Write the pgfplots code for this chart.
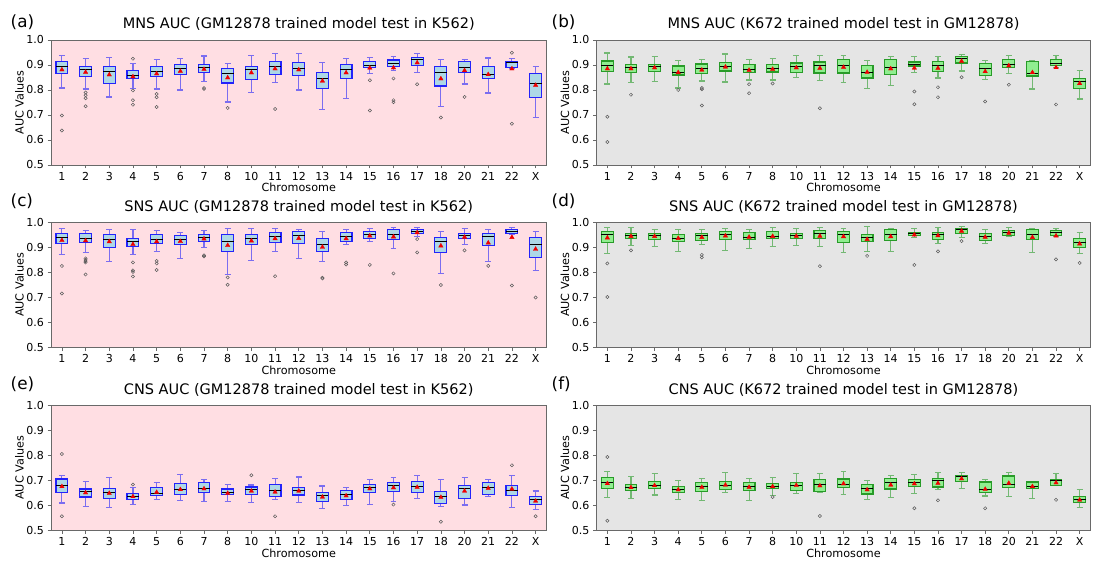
\documentclass[border=0pt]{standalone}
\usepackage{fontspec}
\setmainfont{DejaVu Sans}
\usepackage{pgfplots}
\pgfplotsset{compat=1.18}
\usepgfplotslibrary{statistics}

\definecolor{pinkbg}{RGB}{255,222,227}
\definecolor{graybg}{RGB}{229,229,229}
\definecolor{lblue}{RGB}{173,216,230}
\definecolor{bblue}{RGB}{35,35,250}
\definecolor{lgreen}{RGB}{144,238,144}
\definecolor{bgreen}{RGB}{40,155,40}
\definecolor{spine}{RGB}{105,105,105}
\definecolor{outc}{RGB}{90,90,90}
\definecolor{meanred}{RGB}{240,0,0}

\pgfplotsset{
  panel/.style={
    scale only axis, height=125pt,
    anchor=south west,
    xmin=0.54, xmax=21.46, ymin=0.5, ymax=1.0,
    xtick={1,...,21},
    xticklabels={1,2,3,4,5,6,7,8,10,11,12,13,14,15,16,17,18,20,21,22,X},
    ytick={0.5,0.6,0.7,0.8,0.9,1.0},
    yticklabels={0.5,0.6,0.7,0.8,0.9,1.0},
    tick align=outside, major tick length=3.5pt,
    xtick pos=left, ytick pos=left,
    tick style={spine, line width=0.7pt},
    axis line style={spine, line width=0.9pt},
    ticklabel style={font=\fontsize{11}{12}\selectfont},
    xlabel={Chromosome}, ylabel={AUC Values},
    every axis x label/.style={at={(axis description cs:0.5,0)}, anchor=base, yshift=-27pt, font=\fontsize{11.2}{12}\selectfont},
    every axis y label/.style={at={(axis description cs:-0.0638,0.5)}, anchor=center, rotate=90, font=\fontsize{11.2}{12}\selectfont},
    title style={at={(axis description cs:0.5,1)}, anchor=base, yshift=5pt, font=\fontsize{14.5}{16}\selectfont},
    boxplot/draw direction=y,
    boxplot/box extend=0.5,
    boxplot/whisker extend=0.25,
    boxplot/every median/.style={black, line width=0.9pt},
  },
  leftp/.style={panel, width=495.5pt, axis background/.style={fill=pinkbg},
    boxplot/every box/.style={fill=lblue, draw=bblue, line width=1.1pt},
    boxplot/every whisker/.style={draw=bblue, draw opacity=0.6, line width=1.1pt}},
  rightp/.style={panel, width=494pt, axis background/.style={fill=graybg},
    boxplot/every box/.style={fill=lgreen, draw=bgreen, line width=1.1pt},
    boxplot/every whisker/.style={draw=bgreen, draw opacity=0.6, line width=1.1pt}},
  bxs/.style={mark=o, mark size=1.6pt, mark options={draw=outc, line width=0.5pt, solid}},
  mns/.style={only marks, mark=triangle*, mark size=2.6pt, color=meanred, mark options={solid, draw=meanred, fill=meanred, line width=0.3pt}},
}
% position, lower whisker, Q1, median, Q3, upper whisker, mean (red triangle)
\newcommand{\bx}[7]{\addplot[bxs, boxplot prepared={draw direction=y, draw position=#1, lower whisker=#2, lower quartile=#3, median=#4, upper quartile=#5, upper whisker=#6}] coordinates {};
\addplot[mns] coordinates {(#1,#7)};}
\newcommand{\bxo}[8]{\addplot[bxs, boxplot prepared={draw direction=y, draw position=#1, lower whisker=#2, lower quartile=#3, median=#4, upper quartile=#5, upper whisker=#6}] table[row sep=\\, y index=0] {v\\ #8};
\addplot[mns] coordinates {(#1,#7)};}

\begin{document}
\begin{tikzpicture}
\path[use as bounding box] (0pt,0pt) rectangle (1095pt,561pt);

% (a)
\begin{axis}[leftp, at={(51pt,396pt)}, title={MNS AUC (GM12878 trained model test in K562)}]
\bxo{1}{0.808}{0.866}{0.895}{0.914}{0.938}{0.881}{0.698\\0.638\\}
\bxo{2}{0.804}{0.855}{0.882}{0.895}{0.926}{0.871}{0.790\\0.779\\0.767\\0.735\\}
\bx{3}{0.772}{0.827}{0.873}{0.893}{0.929}{0.861}
\bxo{4}{0.807}{0.845}{0.857}{0.877}{0.906}{0.853}{0.925\\0.798\\0.759\\0.741\\}
\bxo{5}{0.804}{0.854}{0.873}{0.894}{0.922}{0.865}{0.784\\0.771\\0.732\\}
\bx{6}{0.800}{0.862}{0.885}{0.903}{0.926}{0.875}
\bxo{7}{0.834}{0.871}{0.891}{0.903}{0.936}{0.883}{0.808\\0.804\\}
\bxo{8}{0.752}{0.828}{0.866}{0.887}{0.905}{0.849}{0.728\\}
\bx{9}{0.790}{0.842}{0.881}{0.895}{0.937}{0.869}
\bxo{10}{0.831}{0.861}{0.893}{0.913}{0.945}{0.885}{0.724\\}
\bx{11}{0.800}{0.858}{0.885}{0.909}{0.945}{0.881}
\bx{12}{0.723}{0.807}{0.845}{0.871}{0.909}{0.836}
\bx{13}{0.767}{0.845}{0.882}{0.901}{0.925}{0.869}
\bxo{14}{0.865}{0.889}{0.897}{0.913}{0.930}{0.888}{0.839\\0.718\\}
\bxo{15}{0.877}{0.894}{0.905}{0.920}{0.934}{0.889}{0.846\\0.759\\0.751\\}
\bxo{16}{0.869}{0.897}{0.921}{0.929}{0.945}{0.909}{0.823\\}
\bxo{17}{0.735}{0.816}{0.871}{0.893}{0.921}{0.845}{0.690\\}
\bxo{18}{0.824}{0.869}{0.890}{0.913}{0.922}{0.878}{0.772\\}
\bx{19}{0.788}{0.846}{0.863}{0.895}{0.928}{0.862}
\bxo{20}{0.888}{0.891}{0.910}{0.914}{0.926}{0.885}{0.949\\0.665\\}
\bx{21}{0.689}{0.771}{0.828}{0.866}{0.895}{0.819}
\end{axis}

% (b)
\begin{axis}[rightp, at={(596.5pt,396pt)}, title={MNS AUC (K672 trained model test in GM12878)}]
\bxo{1}{0.824}{0.873}{0.897}{0.916}{0.948}{0.885}{0.693\\0.592\\}
\bxo{2}{0.831}{0.871}{0.889}{0.903}{0.932}{0.885}{0.781\\}
\bx{3}{0.833}{0.874}{0.893}{0.903}{0.934}{0.889}
\bxo{4}{0.808}{0.860}{0.872}{0.896}{0.918}{0.870}{0.800\\}
\bxo{5}{0.836}{0.865}{0.887}{0.904}{0.923}{0.880}{0.808\\0.803\\0.738\\}
\bx{6}{0.832}{0.876}{0.895}{0.911}{0.944}{0.892}
\bxo{7}{0.840}{0.871}{0.884}{0.902}{0.921}{0.879}{0.823\\0.787\\}
\bxo{8}{0.840}{0.872}{0.887}{0.901}{0.925}{0.883}{0.826\\}
\bx{9}{0.850}{0.871}{0.895}{0.908}{0.938}{0.889}
\bxo{10}{0.837}{0.868}{0.899}{0.912}{0.939}{0.887}{0.727\\}
\bx{11}{0.829}{0.868}{0.899}{0.923}{0.939}{0.891}
\bx{12}{0.806}{0.848}{0.872}{0.899}{0.917}{0.871}
\bx{13}{0.818}{0.861}{0.891}{0.922}{0.933}{0.885}
\bxo{14}{0.871}{0.896}{0.902}{0.912}{0.935}{0.888}{0.794\\0.743\\}
\bxo{15}{0.848}{0.873}{0.897}{0.913}{0.935}{0.887}{0.811\\0.771\\}
\bxo{16}{0.876}{0.908}{0.925}{0.935}{0.943}{0.915}{0.851\\}
\bxo{17}{0.841}{0.857}{0.885}{0.906}{0.918}{0.874}{0.754\\}
\bxo{18}{0.865}{0.890}{0.903}{0.923}{0.939}{0.897}{0.821\\}
\bx{19}{0.804}{0.856}{0.866}{0.913}{0.916}{0.870}
\bxo{20}{0.891}{0.897}{0.907}{0.922}{0.939}{0.890}{0.742\\}
\bx{21}{0.764}{0.806}{0.834}{0.846}{0.877}{0.826}
\end{axis}

% (c)
\begin{axis}[leftp, at={(51pt,213.3pt)}, height=125.4pt, title={SNS AUC (GM12878 trained model test in K562)}]
\bxo{1}{0.872}{0.915}{0.940}{0.955}{0.976}{0.928}{0.826\\0.716\\}
\bxo{2}{0.880}{0.920}{0.936}{0.954}{0.968}{0.927}{0.856\\0.850\\0.845\\0.840\\0.792\\}
\bx{3}{0.842}{0.898}{0.932}{0.953}{0.972}{0.923}
\bxo{4}{0.872}{0.905}{0.925}{0.936}{0.972}{0.912}{0.840\\0.808\\0.802\\0.784\\}
\bxo{5}{0.885}{0.915}{0.932}{0.951}{0.968}{0.923}{0.846\\0.836\\0.810\\}
\bx{6}{0.856}{0.910}{0.933}{0.948}{0.960}{0.924}
\bxo{7}{0.898}{0.925}{0.941}{0.953}{0.968}{0.934}{0.868\\0.864\\}
\bxo{8}{0.792}{0.882}{0.925}{0.950}{0.975}{0.908}{0.780\\0.751\\}
\bx{9}{0.848}{0.910}{0.937}{0.953}{0.976}{0.926}
\bxo{10}{0.885}{0.918}{0.944}{0.960}{0.976}{0.935}{0.785\\}
\bx{11}{0.857}{0.914}{0.946}{0.965}{0.972}{0.936}
\bxo{12}{0.843}{0.883}{0.912}{0.935}{0.962}{0.901}{0.779\\0.776\\}
\bxo{13}{0.913}{0.923}{0.943}{0.960}{0.972}{0.935}{0.840\\0.832\\}
\bxo{14}{0.925}{0.936}{0.950}{0.965}{0.976}{0.946}{0.830\\}
\bxo{15}{0.896}{0.932}{0.953}{0.970}{0.979}{0.942}{0.796\\}
\bxo{16}{0.944}{0.957}{0.965}{0.972}{0.978}{0.959}{0.933\\0.880\\}
\bxo{17}{0.797}{0.881}{0.925}{0.941}{0.963}{0.906}{0.750\\}
\bxo{18}{0.913}{0.936}{0.949}{0.956}{0.975}{0.941}{0.888\\}
\bxo{19}{0.845}{0.906}{0.944}{0.956}{0.970}{0.918}{0.826\\}
\bxo{20}{0.950}{0.954}{0.963}{0.971}{0.978}{0.940}{0.748\\}
\bxo{21}{0.806}{0.860}{0.912}{0.940}{0.963}{0.893}{0.700\\}
\end{axis}

% (d)
\begin{axis}[rightp, at={(596.5pt,213.3pt)}, height=125.4pt, title={SNS AUC (K672 trained model test in GM12878)}]
\bxo{1}{0.877}{0.920}{0.950}{0.965}{0.980}{0.938}{0.836\\0.702\\}
\bxo{2}{0.908}{0.934}{0.946}{0.955}{0.979}{0.944}{0.888\\}
\bx{3}{0.904}{0.930}{0.948}{0.956}{0.972}{0.944}
\bx{4}{0.884}{0.924}{0.937}{0.952}{0.972}{0.936}
\bxo{5}{0.911}{0.926}{0.948}{0.957}{0.972}{0.940}{0.870\\0.860\\}
\bx{6}{0.887}{0.930}{0.952}{0.965}{0.977}{0.946}
\bx{7}{0.897}{0.933}{0.940}{0.960}{0.972}{0.941}
\bx{8}{0.904}{0.935}{0.945}{0.963}{0.978}{0.944}
\bx{9}{0.906}{0.934}{0.946}{0.955}{0.976}{0.945}
\bxo{10}{0.905}{0.935}{0.954}{0.966}{0.978}{0.945}{0.825\\}
\bx{11}{0.881}{0.920}{0.950}{0.965}{0.974}{0.943}
\bxo{12}{0.884}{0.922}{0.940}{0.953}{0.984}{0.932}{0.866\\}
\bx{13}{0.885}{0.928}{0.952}{0.970}{0.976}{0.943}
\bxo{14}{0.941}{0.946}{0.955}{0.960}{0.976}{0.950}{0.830\\}
\bxo{15}{0.914}{0.933}{0.950}{0.958}{0.978}{0.947}{0.884\\}
\bxo{16}{0.940}{0.956}{0.972}{0.976}{0.985}{0.965}{0.925\\}
\bx{17}{0.916}{0.928}{0.942}{0.956}{0.971}{0.941}
\bx{18}{0.942}{0.949}{0.958}{0.968}{0.979}{0.957}
\bx{19}{0.880}{0.930}{0.952}{0.970}{0.975}{0.940}
\bxo{20}{0.945}{0.947}{0.958}{0.969}{0.976}{0.946}{0.852\\}
\bxo{21}{0.876}{0.898}{0.920}{0.935}{0.960}{0.914}{0.838\\}
\end{axis}

% (e)
\begin{axis}[leftp, at={(51pt,30.7pt)}, title={CNS AUC (GM12878 trained model test in K562)}]
\bxo{1}{0.609}{0.652}{0.680}{0.705}{0.718}{0.675}{0.805\\0.556\\}
\bx{2}{0.596}{0.633}{0.656}{0.665}{0.696}{0.650}
\bx{3}{0.592}{0.627}{0.650}{0.668}{0.711}{0.648}
\bxo{4}{0.604}{0.624}{0.636}{0.647}{0.672}{0.635}{0.683\\}
\bx{5}{0.623}{0.640}{0.648}{0.672}{0.690}{0.652}
\bx{6}{0.618}{0.643}{0.662}{0.688}{0.722}{0.663}
\bx{7}{0.616}{0.651}{0.668}{0.692}{0.703}{0.666}
\bx{8}{0.616}{0.643}{0.650}{0.665}{0.684}{0.648}
\bxo{9}{0.612}{0.644}{0.662}{0.673}{0.681}{0.657}{0.720\\}
\bxo{10}{0.623}{0.635}{0.658}{0.682}{0.707}{0.653}{0.556\\}
\bx{11}{0.612}{0.641}{0.659}{0.672}{0.713}{0.657}
\bx{12}{0.588}{0.616}{0.640}{0.651}{0.677}{0.633}
\bx{13}{0.600}{0.624}{0.643}{0.660}{0.670}{0.638}
\bx{14}{0.603}{0.651}{0.670}{0.682}{0.703}{0.666}
\bxo{15}{0.614}{0.656}{0.678}{0.690}{0.710}{0.670}{0.603\\}
\bx{16}{0.627}{0.651}{0.677}{0.695}{0.718}{0.672}
\bxo{17}{0.596}{0.607}{0.636}{0.654}{0.702}{0.632}{0.534\\}
\bx{18}{0.601}{0.628}{0.668}{0.680}{0.711}{0.657}
\bx{19}{0.636}{0.643}{0.672}{0.690}{0.703}{0.668}
\bxo{20}{0.591}{0.640}{0.660}{0.680}{0.720}{0.665}{0.760\\}
\bxo{21}{0.584}{0.604}{0.623}{0.636}{0.657}{0.617}{0.556\\}
\end{axis}

% (f)
\begin{axis}[rightp, at={(596.5pt,30.7pt)}, title={CNS AUC (K672 trained model test in GM12878)}]
\bxo{1}{0.631}{0.668}{0.692}{0.711}{0.736}{0.687}{0.793\\0.538\\}
\bx{2}{0.627}{0.660}{0.672}{0.684}{0.716}{0.671}
\bx{3}{0.641}{0.668}{0.681}{0.694}{0.727}{0.679}
\bx{4}{0.624}{0.652}{0.665}{0.675}{0.700}{0.662}
\bx{5}{0.620}{0.655}{0.675}{0.691}{0.708}{0.672}
\bx{6}{0.652}{0.662}{0.680}{0.695}{0.732}{0.681}
\bx{7}{0.620}{0.660}{0.675}{0.691}{0.708}{0.672}
\bxo{8}{0.640}{0.666}{0.677}{0.687}{0.710}{0.675}{0.633\\}
\bx{9}{0.646}{0.660}{0.681}{0.691}{0.726}{0.680}
\bxo{10}{0.652}{0.656}{0.683}{0.704}{0.727}{0.678}{0.557\\}
\bx{11}{0.644}{0.672}{0.684}{0.705}{0.735}{0.686}
\bx{12}{0.623}{0.645}{0.667}{0.683}{0.699}{0.662}
\bx{13}{0.631}{0.665}{0.690}{0.707}{0.719}{0.681}
\bxo{14}{0.648}{0.676}{0.693}{0.702}{0.723}{0.686}{0.588\\}
\bxo{15}{0.662}{0.673}{0.698}{0.706}{0.731}{0.688}{0.620\\}
\bx{16}{0.667}{0.696}{0.715}{0.720}{0.731}{0.706}
\bxo{17}{0.637}{0.651}{0.664}{0.693}{0.704}{0.664}{0.588\\}
\bx{18}{0.636}{0.672}{0.685}{0.717}{0.730}{0.688}
\bx{19}{0.627}{0.666}{0.675}{0.693}{0.695}{0.675}
\bxo{20}{0.678}{0.678}{0.700}{0.703}{0.728}{0.690}{0.622\\}
\bx{21}{0.591}{0.612}{0.623}{0.636}{0.664}{0.621}
\end{axis}

\begin{scope}[every node/.style={anchor=base west, inner sep=0pt, font=\fontsize{16.8}{18}\selectfont}]
\node at (10.5pt,533.2pt) {(a)};
\node at (551.5pt,533.2pt) {(b)};
\node at (10.5pt,354.2pt) {(c)};
\node at (551.5pt,354.2pt) {(d)};
\node at (10.5pt,171.5pt) {(e)};
\node at (551.5pt,171.5pt) {(f)};
\end{scope}
\end{tikzpicture}
\end{document}
